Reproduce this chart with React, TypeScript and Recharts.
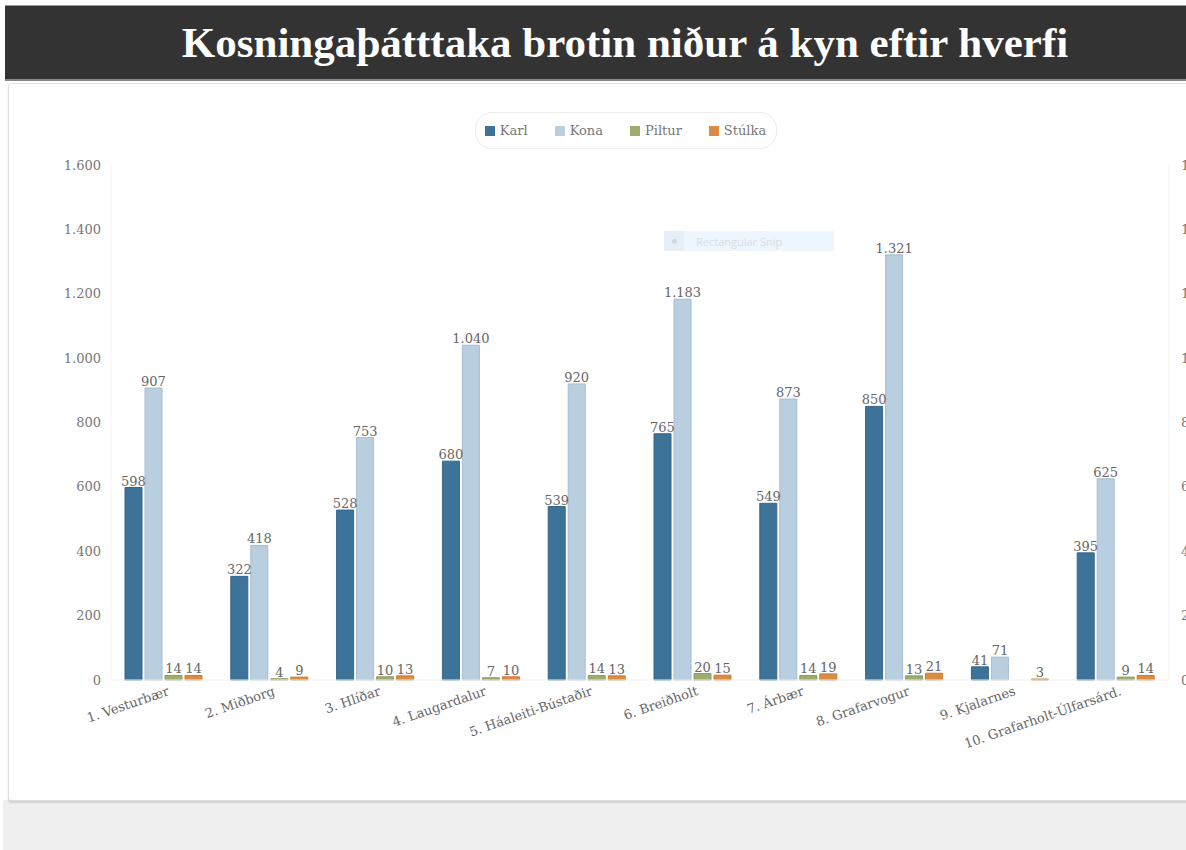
import { Bar, ComposedChart, LabelList, Legend, Line, XAxis, YAxis } from 'recharts';

const districts = [
  '1. Vesturbær',
  '2. Miðborg',
  '3. Hlíðar',
  '4. Laugardalur',
  '5. Háaleiti-Bústaðir',
  '6. Breiðholt',
  '7. Árbær',
  '8. Grafarvogur',
  '9. Kjalarnes',
  '10. Grafarholt-Úlfarsárd.',
];
const karl = [598, 322, 528, 680, 539, 765, 549, 850, 41, 395];
const kona = [907, 418, 753, 1040, 920, 1183, 873, 1321, 71, 625];
const piltur = [14, 4, 10, 7, 14, 20, 14, 13, null, 9];
const stulka = [14, 9, 13, 10, 13, 15, 19, 21, 3, 14];
const yTicks = [0, 200, 400, 600, 800, 1000, 1200, 1400, 1600];

const series = [
  { key: 'Karl', values: karl, color: '#3e7399', stroke: '#356688' },
  { key: 'Kona', values: kona, color: '#b9cfe0', stroke: '#a6bdd0' },
  { key: 'Piltur', values: piltur, color: '#9eac6e', stroke: '#8e9c60' },
  { key: 'Stúlka', values: stulka, color: '#d98c42', stroke: '#c97d36' },
];

const data = districts.map((name, i) => {
  const row: Record<string, string | number | null> = { name };
  series.forEach((s) => {
    row[s.key] = s.values[i];
  });
  return row;
});

const font = '"DejaVu Serif", Georgia, serif';
const fmt = (v: any) => (v == null ? '' : String(v).replace(/\B(?=(\d{3})+(?!\d))/g, '.'));

const XTick = ({ x, y, payload }: any) => (
  <g transform={`translate(${x + 4},${y + 1})`}>
    <text transform="rotate(-19)" textAnchor="end" dy={6} fill="#666" fontSize={13} fontFamily={font}>
      {payload.value}
    </text>
  </g>
);

const LegendBox = () => (
  <div style={{ display: 'flex', justifyContent: 'center' }}>
    <div
      style={{
        display: 'flex',
        gap: 27,
        alignItems: 'center',
        height: 35,
        padding: '0 10px 0 9px',
        border: '1px solid #ececec',
        borderRadius: 17,
        fontFamily: font,
        fontSize: 13,
        color: '#777',
      }}
    >
      {series.map((s) => (
        <span key={s.key} style={{ display: 'flex', alignItems: 'center', gap: 5 }}>
          <span style={{ width: 10, height: 10, background: s.color, display: 'inline-block' }} />
          {s.key}
        </span>
      ))}
    </div>
  </div>
);

export default function App() {
  return (
    <div style={{ position: 'fixed', left: 0, top: 0, width: 1186, height: 850, overflow: 'hidden', background: '#fff' }}>
      <div style={{ position: 'absolute', left: 3, top: 800, width: 1300, height: 60, background: '#efefef' }} />
      <div
        style={{
          position: 'absolute',
          left: 5,
          top: 5,
          width: 1240,
          height: 76,
          background: '#333',
          borderTop: '1px solid #999',
          borderBottom: '2px solid #888',
          color: '#fff',
          display: 'flex',
          alignItems: 'center',
          justifyContent: 'center',
          fontFamily: '"Liberation Serif", serif',
          fontWeight: 'bold',
          fontSize: 43,
          boxSizing: 'border-box',
        }}
      >
        Kosningaþátttaka brotin niður á kyn eftir hverfi
      </div>
      <div
        style={{
          position: 'absolute',
          left: 8,
          top: 83,
          width: 1234,
          height: 716,
          background: '#fff',
          border: '1px solid #ddd',
          borderRadius: 3,
          boxShadow: '0 2px 2px rgba(0,0,0,0.12)',
        }}
      >
        <ComposedChart
          width={1234}
          height={716}
          data={data}
          margin={{ top: 44, right: 14, bottom: 20, left: 42 }}
          barSize={17}
          barGap={3}
        >
          <Legend verticalAlign="top" content={<LegendBox />} wrapperStyle={{ top: 28, left: 0, width: 1234 }} />
          <XAxis
            dataKey="name"
            tick={<XTick />}
            tickLine={false}
            axisLine={{ stroke: '#f0f0f0' }}
            height={100}
            interval={0}
          />
          <YAxis
            yAxisId="left"
            domain={[0, 1600]}
            ticks={yTicks}
            tickFormatter={fmt}
            tickLine={false}
            tickSize={0}
            axisLine={{ stroke: '#f3f3f3' }}
            tickMargin={10}
            tick={{ fill: '#777', fontSize: 13, fontFamily: font }}
            width={60}
          />
          <YAxis
            yAxisId="right"
            orientation="right"
            domain={[0, 1600]}
            ticks={yTicks}
            tickFormatter={fmt}
            tickLine={false}
            tickSize={0}
            axisLine={{ stroke: '#f3f3f3' }}
            tickMargin={12}
            tick={{ fill: '#777', fontSize: 13, fontFamily: font }}
            width={60}
          />
          {series.map((s) => (
            <Bar
              key={s.key}
              yAxisId="left"
              dataKey={s.key}
              fill={s.color}
              stroke={s.stroke}
              strokeWidth={1}
              isAnimationActive={false}
            >
              <LabelList
                dataKey={s.key}
                position="top"
                offset={2}
                formatter={fmt}
                fill="#666"
                fontSize={13}
                fontFamily={font}
              />
            </Bar>
          ))}
          <Line
            yAxisId="right"
            dataKey="Karl"
            stroke="none"
            dot={false}
            activeDot={false}
            legendType="none"
            isAnimationActive={false}
          />
        </ComposedChart>
        <div
          style={{
            position: 'absolute',
            left: 655,
            top: 147,
            width: 170,
            height: 20,
            background: '#eef6fd',
            color: '#d6dde4',
            fontFamily: '"Open Sans", sans-serif',
            fontSize: 11,
            display: 'flex',
            alignItems: 'center',
          }}
        >
          <span style={{ width: 20, height: 20, background: '#e6eff8', marginRight: 12, display: 'flex', alignItems: 'center', justifyContent: 'center' }}>
            <span style={{ width: 5, height: 5, borderRadius: 3, background: '#cfd8e2' }} />
          </span>
          Rectangular Snip
        </div>
      </div>
    </div>
  );
}
